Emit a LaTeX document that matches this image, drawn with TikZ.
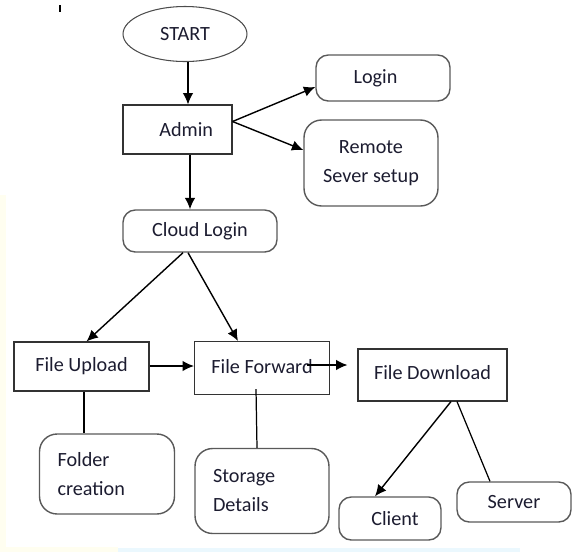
\documentclass[tikz,border=0pt]{standalone}
\usepackage{fontspec}
\setmainfont{Carlito}
\usepackage{xcolor}
\usetikzlibrary{arrows,arrows.meta,shapes,calc}
\definecolor{txtcol}{RGB}{28,28,48}
\tikzstyle{plainbox}=[draw=black!80, line width=.6pt, rectangle, inner sep=0pt, text=txtcol]
\tikzstyle{softbox}=[draw=black!65, line width=.8pt, rectangle, rounded corners=7pt, inner sep=0pt, text=txtcol]
\tikzstyle{flow}=[line width=.8pt, -{Latex[length=6.5pt,width=6pt]}]
\tikzstyle{link}=[line width=.7pt]

\begin{document}
\begin{tikzpicture}[x=.02cm, y=-.02cm, font=\fontsize{11.5}{16.5}\selectfont]
	\useasboundingbox (0,0) rectangle (572,552);
	% faint page edges
	\fill[yellow!6] (0,195) rectangle (6,552);
	\fill[yellow!6] (0,547) rectangle (118,552);
	\fill[cyan!8] (118,548) rectangle (520,552);
	\draw[line width=1.2pt] (60,5) -- (60,12);

	\node[ellipse, draw=black!70, line width=.6pt, minimum width=2.48cm, minimum height=1.1cm, inner sep=0pt, text=txtcol] (start) at (185,34) {\raisebox{-.02cm}{START}};
	\node[plainbox, minimum width=2.18cm, minimum height=.98cm] (admin) at (177.5,129.5) {\hspace{.35cm}Admin};
	\node[softbox, minimum width=2.68cm, minimum height=.92cm] (login) at (383,78) {\hspace{-.3cm}\raisebox{-.03cm}{Login}};
	\node[softbox, rounded corners=10pt, minimum width=2.68cm, minimum height=1.72cm, align=center] (remote) at (371,163) {Remote\\Sever setup};
	\node[softbox, minimum width=3.08cm, minimum height=.84cm] (cloud) at (200,231) {Cloud Login};

	\node[plainbox, minimum width=2.7cm, minimum height=.98cm] (upload) at (81.5,366.5) {File Upload\hspace{.1cm}};
	\node[plainbox, minimum width=2.7cm, minimum height=1.06cm] (ffwd) at (262,368) {\raisebox{.07cm}{File Forward}};
	\node[plainbox, minimum width=2.98cm, minimum height=1.04cm] (fdown) at (432.5,375) {\raisebox{.1cm}{File Download}};

	\node[softbox, rounded corners=10pt, minimum width=2.7cm, minimum height=1.6cm, text width=1.98cm, inner xsep=.36cm, align=left] (folder) at (107,474) {Folder\\creation};
	\node[softbox, rounded corners=10pt, minimum width=2.68cm, minimum height=1.7cm, text width=1.96cm, inner xsep=.36cm, align=left] (storage) at (262,491) {Storage\\Details};
	\node[softbox, minimum width=2.04cm, minimum height=.86cm] (client) at (390,518.5) {\hspace{.2cm}Client};
	\node[softbox, minimum width=2.28cm, minimum height=.8cm] (server) at (514,502) {Server};

	% drop points for the straight links
	\coordinate (startfoot) at ($(start.south)+(3,0)$);
	\coordinate (cloudtop) at ($(cloud.north)+(-10,0)$);
	\coordinate (uploadfoot) at ($(upload.south)+(2.5,0)$);

	\draw[flow] (startfoot) -- (startfoot |- admin.north);
	\draw[flow] ($(admin.east)+(0,-8)$) -- ($(login.west)+(0,9)$);
	\draw[flow] ($(admin.east)+(0,-8)$) -- ($(remote.west)+(0,-13)$);
	\draw[flow] (cloudtop |- admin.south) -- (cloudtop);
	\draw[flow] ($(cloud.south)+(-17,0)$) -- ($(upload.north)+(5,0)$);
	\draw[flow] ($(cloud.south)+(-12,0)$) -- ($(ffwd.north)+(-24,0)$);
	\draw[flow] ($(upload.east)+(0,-.5)$) -- ($(upload.east -| ffwd.west)+(0,-.5)$);
	\draw[flow] ($(ffwd.east)+(-23,-3)$) -- ($(fdown.west)+(-10,-10)$);
	\draw[flow] ($(fdown.south)+(18.5,0)$) -- ($(client.north)+(-15,0)$);
	\draw[link] ($(fdown.south)+(24.5,0)$) -- ($(server.north)+(-24,0)$);
	\draw[link] (uploadfoot) -- (uploadfoot |- folder.north);
	\draw[link] ($(ffwd.south)+(-6,-6)$) -- ($(storage.north)+(-5,0)$);
\end{tikzpicture}
\end{document}
